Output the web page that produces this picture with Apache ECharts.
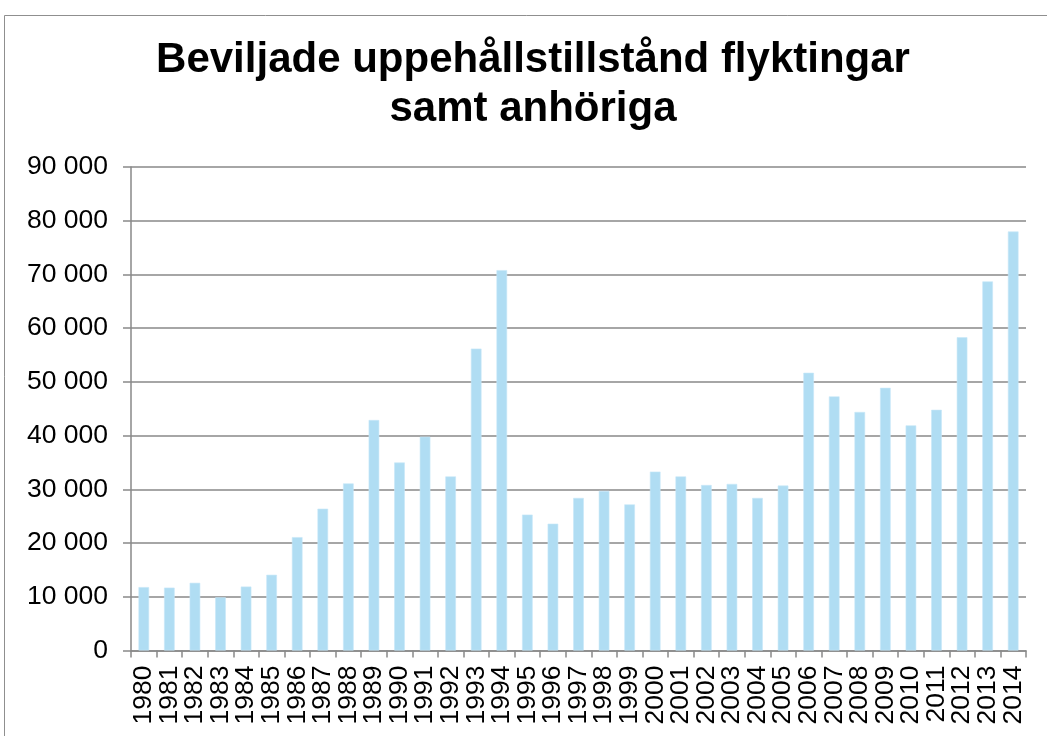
<!DOCTYPE html>
<html>
<head>
<meta charset="utf-8">
<script src="https://cdn.jsdelivr.net/npm/echarts@6/dist/echarts.min.js"></script>
<style>
html,body{margin:0;padding:0;background:#fff;}
#chart{width:1047px;height:736px;}
</style>
</head>
<body>
<div id="chart"></div>
<script>
const titleText = 'Beviljade uppehållstillstånd flyktingar\nsamt anhöriga';
const years = ['1980','1981','1982','1983','1984','1985','1986','1987','1988','1989',
  '1990','1991','1992','1993','1994','1995','1996','1997','1998','1999',
  '2000','2001','2002','2003','2004','2005','2006','2007','2008','2009',
  '2010','2011','2012','2013','2014'];
const granted = [11800,11700,12600,9900,11900,14100,21100,26400,31100,42900,
  35000,39800,32400,56200,70800,25300,23600,28400,29700,27200,
  33300,32400,30800,31000,28400,30700,51700,47300,44400,48900,
  41900,44800,58300,68700,78000];
const yTicks = [0,10000,20000,30000,40000,50000,60000,70000,80000,90000];

const FONT = 'Liberation Sans, Arial, Helvetica, sans-serif';
const GRAY = '#898989';

function fmt(v){
  return String(v).replace(/\B(?=(\d{3})+(?!\d))/g, ' ');
}

const chart = echarts.init(document.getElementById('chart'), null, {renderer:'canvas'});
chart.setOption({
  animation: false,
  backgroundColor: '#ffffff',
  graphic: [{
    type: 'rect',
    shape: {x: 4.5, y: 15.5, width: 1200, height: 900},
    style: {fill: 'none', stroke: '#8f8f8f', lineWidth: 1},
    silent: true,
    z: 0
  }],
  title: {
    text: titleText,
    left: 533,
    top: 36,
    padding: 0,
    textAlign: 'center',
    textStyle: {
      fontFamily: FONT,
      fontWeight: 'bold',
      fontSize: 42,
      lineHeight: 49,
      color: '#000'
    }
  },
  grid: {
    left: 131,
    right: 21,
    top: 167,
    bottom: 85.5,
    containLabel: false
  },
  xAxis: {
    type: 'category',
    data: years,
    boundaryGap: true,
    axisLine: {show: true, lineStyle: {color: GRAY, width: 1.5}},
    axisTick: {show: true, alignWithLabel: false, length: 7, lineStyle: {color: GRAY, width: 1.5}},
    axisLabel: {
      interval: 0,
      rotate: 90,
      margin: 15,
      fontFamily: FONT,
      fontSize: 26.5,
      color: '#000'
    },
    splitLine: {show: false}
  },
  yAxis: {
    type: 'value',
    min: yTicks[0],
    max: yTicks[yTicks.length - 1],
    interval: yTicks[1] - yTicks[0],
    axisLine: {show: true, lineStyle: {color: GRAY, width: 1.5}},
    axisTick: {show: true, length: 8, lineStyle: {color: GRAY, width: 1.5}},
    axisLabel: {
      margin: 23,
      fontFamily: FONT,
      fontSize: 26.5,
      color: '#000',
      formatter: v => fmt(v)
    },
    splitLine: {show: true, lineStyle: {color: GRAY, width: 1.5}}
  },
  series: [{
    type: 'bar',
    data: granted,
    barWidth: 10.6,
    itemStyle: {color: '#b0ddf3', borderColor: '#c8e8f8', borderWidth: 0.6},
    z: 1
  }]
});
</script>
</body>
</html>
